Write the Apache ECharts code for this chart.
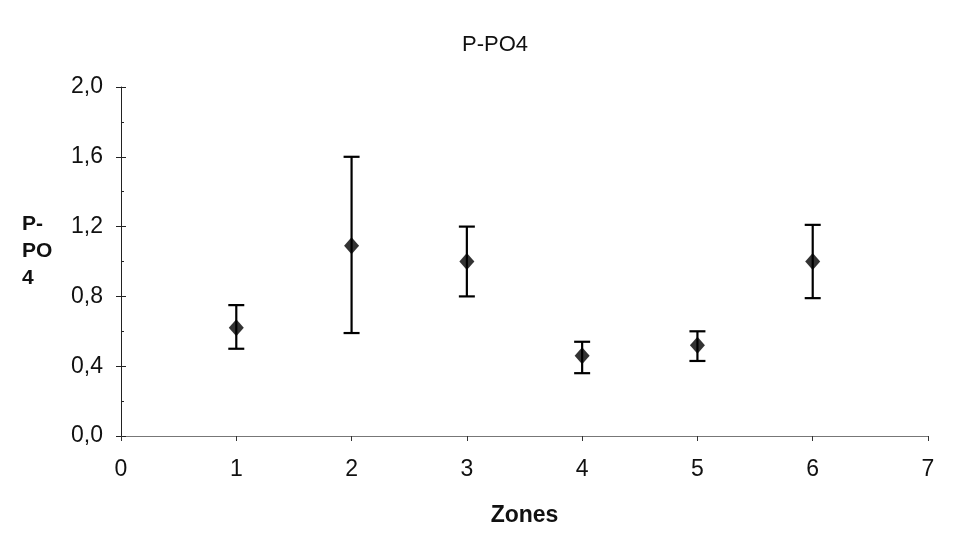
<!DOCTYPE html>
<html>
<head>
<meta charset="utf-8">
<script src="https://cdn.jsdelivr.net/npm/echarts@6/dist/echarts.min.js"></script>
<style>
  html, body { margin: 0; padding: 0; background: #fff; }
  #chart { width: 960px; height: 541px; }
</style>
</head>
<body>
<div id="chart"></div>
<script>
// P-PO4 per zone: mean with lower / upper bounds
const zones = [1, 2, 3, 4, 5, 6];
const means = [0.62, 1.09, 1.00, 0.46, 0.52, 1.00];
const lows  = [0.50, 0.59, 0.80, 0.36, 0.43, 0.79];
const highs = [0.75, 1.60, 1.20, 0.54, 0.60, 1.21];
const yTicks = ['0,0', '0,4', '0,8', '1,2', '1,6', '2,0'];

const font = '"Liberation Sans", Arial, sans-serif';
const chart = echarts.init(document.getElementById('chart'));

const errData = zones.map((z, i) => [z, lows[i], highs[i]]);
const pointData = zones.map((z, i) => [z, means[i]]);

// hidden helper axis: same scale as the value axis, used only for inner ticks
function innerTickAxis(interval, length) {
  return {
    type: 'value', min: 0, max: 2, interval: interval, position: 'left',
    axisLine: { show: false },
    axisTick: { show: true, inside: true, length: length, lineStyle: { color: '#222' } },
    axisLabel: { show: false },
    splitLine: { show: false }
  };
}

chart.setOption({
  animation: false,
  backgroundColor: '#ffffff',
  title: {
    text: 'P-PO4',
    left: 490, top: 29, textAlign: 'center',
    textStyle: { fontFamily: font, fontSize: 22, fontWeight: 'normal', color: '#111' }
  },
  grid: { left: 121, right: 32, top: 87, bottom: 105, containLabel: false },
  xAxis: {
    type: 'value', min: 0, max: 7, interval: 1,
    name: 'Zones', nameLocation: 'middle', nameGap: 68,
    nameTextStyle: { fontFamily: font, fontSize: 23, fontWeight: 'bold', color: '#111' },
    axisLine: { lineStyle: { color: '#777', width: 1.2 } },
    axisTick: { show: true, length: 5, lineStyle: { color: '#333' } },
    axisLabel: { fontFamily: font, fontSize: 23, color: '#111', margin: 22 },
    splitLine: { show: false }
  },
  yAxis: [
    {
      type: 'value', min: 0, max: 2, interval: 0.4,
      axisLine: { show: true, lineStyle: { color: '#222', width: 1 } },
      axisTick: { show: true, length: 5, lineStyle: { color: '#222' } },
      axisLabel: {
        fontFamily: font, fontSize: 23, color: '#111', margin: 18,
        formatter: (v) => yTicks[Math.round(v / 0.4)]
      },
      splitLine: { show: false }
    },
    innerTickAxis(0.2, 3),
    innerTickAxis(0.4, 5)
  ],
  graphic: [{
    type: 'text', left: 22, top: 211,
    style: {
      text: 'P-\nPO\n4', fontFamily: font, fontSize: 21, fontWeight: 'bold',
      fill: '#111', lineHeight: 27
    }
  }],
  series: [
    {
      type: 'custom',
      data: errData,
      renderItem: function (params, api) {
        const x = api.value(0);
        const lo = api.coord([x, api.value(1)]);
        const hi = api.coord([x, api.value(2)]);
        const w = 8;
        const style = { stroke: '#000', lineWidth: 2.2 };
        return {
          type: 'group',
          children: [
            { type: 'line', shape: { x1: lo[0], y1: lo[1], x2: hi[0], y2: hi[1] }, style },
            { type: 'line', shape: { x1: hi[0] - w, y1: hi[1], x2: hi[0] + w, y2: hi[1] }, style },
            { type: 'line', shape: { x1: lo[0] - w, y1: lo[1], x2: lo[0] + w, y2: lo[1] }, style }
          ]
        };
      },
      z: 2
    },
    {
      type: 'scatter',
      data: pointData,
      symbol: 'diamond',
      symbolSize: [15, 17],
      itemStyle: { color: '#000' },
      z: 3
    }
  ]
});
</script>
</body>
</html>
